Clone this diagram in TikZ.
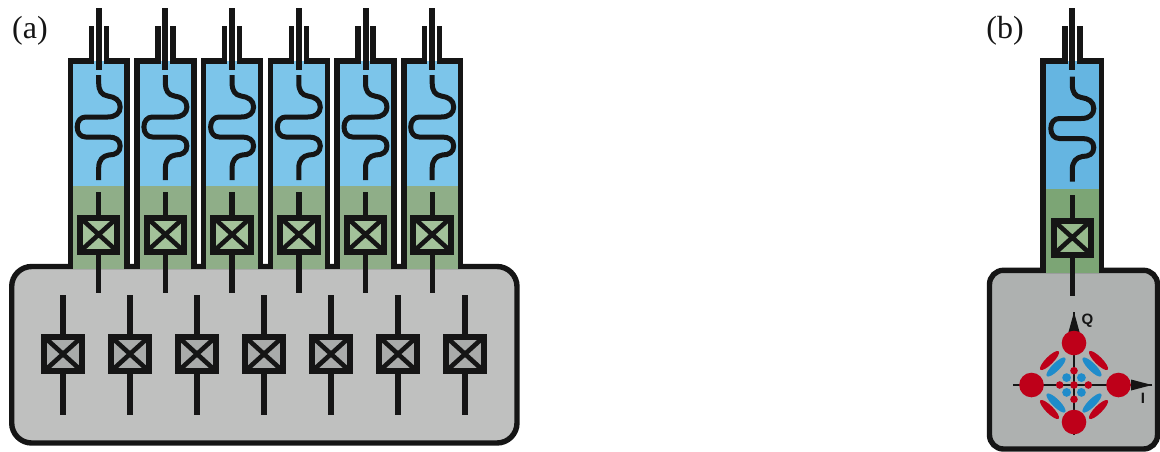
\documentclass[tikz,border=0pt]{standalone}
\usepackage{fontspec}
\setmainfont{Liberation Serif}
\setsansfont{Liberation Sans}
\definecolor{ink}{HTML}{151515}
\definecolor{blueA}{HTML}{7CC5EA}
\definecolor{greenA}{HTML}{8FAE88}
\definecolor{lightA}{HTML}{A3C29A}
\definecolor{blueB}{HTML}{65B5E1}
\definecolor{greenB}{HTML}{7CA575}
\definecolor{lightB}{HTML}{96B98C}
\definecolor{baseA}{HTML}{BFC0BF}
\definecolor{jjbase}{HTML}{A9ABAA}
\definecolor{baseB}{HTML}{AEB1B0}
\definecolor{qred}{HTML}{BE0019}
\definecolor{qblue}{HTML}{1F8CCB}
\tikzset{
  wire/.style={draw=ink,line width=5.4pt,line cap=butt},
  wall/.style={draw=ink,line width=5.4pt,miter limit=10},
  meander/.style={draw=ink,line width=5pt,line join=round},
  baseplate/.style={draw=ink,line width=5.4pt,rounded corners=20pt},
  jj/.style={rectangle,draw=ink,line width=6pt,minimum width=37.5pt,minimum height=34pt,inner sep=0pt,fill=#1,
    path picture={\draw[ink,line width=4.6pt]
      (path picture bounding box.south west) -- (path picture bounding box.north east)
      (path picture bounding box.north west) -- (path picture bounding box.south east);}},
  axis/.style={draw=ink,line width=1.2pt},
  tag/.style={font=\fontsize{32}{32}\selectfont,text=ink,inner sep=0pt},
  iqlabel/.style={font=\sffamily\bfseries\fontsize{15}{15}\selectfont,text=ink,inner sep=0pt}
}
% #1 name, #2 x, #3 half width, #4 dy of the lower part, #5 blue, #6 green, #7 light green, #8 bottom of green
\newcommand{\qcolumn}[8]{%
\begin{scope}[shift={(#2,0)}]
  \fill[#5] (-#3,61) rectangle (#3,{186+#4});
  \fill[#6] (-#3,{186+#4}) rectangle (#3,#8);
  \draw[wall] (-#3,#8) -- (-#3,61) -- (-7.5,61) -- (-7.5,26);
  \draw[wall] (#3,#8) -- (#3,61) -- (7.5,61) -- (7.5,26);
  \coordinate (#1pt) at (0,8);
  \coordinate (#1pb) at (0,70);
  \draw[wire,line width=6pt] (#1pt) -- (#1pb);
  \begin{scope}[yshift={-0.5*#4 pt}]
  \draw[meander] (0,75) -- (0,83) .. controls (0,91) and (3,95) .. (9,96)
    .. controls (16,97) and (21.5,100) .. (21.5,107) .. controls (21.5,113) and (17,117) .. (9,117)
    -- (-13,117) .. controls (-18,117) and (-21.5,121) .. (-21.5,127) .. controls (-21.5,133) and (-18,137) .. (-13,137)
    -- (10,137) .. controls (17,137) and (21.5,140) .. (21.5,146) .. controls (21.5,152) and (17,155) .. (10,155)
    .. controls (4,156) and (0,160) .. (0,168) -- (0,180);
  \end{scope}
  \node[jj=#7] (#1q) at (0,{234.5+#4}) {};
  \coordinate (#1a) at (0,{192+#4});
  \coordinate (#1b) at (0,{293+#4});
  \draw[wire] (#1a) -- (#1q.north);
  \draw[wire] (#1q.south) -- (#1b);
\end{scope}}
\begin{document}
\begin{tikzpicture}[x=1pt,y=-1pt]
\useasboundingbox (0,0) rectangle (1160,451);
% panel (a)
\node[tag] (labela) at (30,31) {(a)};
\path[baseplate,fill=baseA] (11.7,266.5) rectangle (517,443);
\foreach \i in {0,...,5} {
  \pgfmathsetmacro{\cx}{98.7+66.7*\i}
  \qcolumn{c\i}{\cx}{28.4}{0}{blueA}{greenA}{lightA}{269}
}
\foreach \i in {0,...,6} {
  \pgfmathsetmacro{\cx}{63+67*\i}
  \node[jj=jjbase] (m\i) at (\cx,354) {};
  \coordinate (mt\i) at (\cx,295);
  \coordinate (mb\i) at (\cx,414.5);
  \draw[wire] (mt\i) -- (m\i.north);
  \draw[wire] (m\i.south) -- (mb\i);
}
% panel (b)
\node[tag] (labelb) at (1005,31) {(b)};
\path[baseplate,rounded corners=14pt,fill=baseB] (989.5,270.3) rectangle (1157.5,449);
\qcolumn{d}{1072.3}{29.3}{3}{blueB}{greenB}{lightB}{273}
% constellation
\begin{scope}[shift={(1074,385)}]
  \coordinate (ql) at (-61,0);
  \coordinate (qr) at (78,0);
  \coordinate (qd) at (0,50);
  \coordinate (qu) at (0,-73);
  \draw[axis] (ql) -- (qr);
  \draw[axis] (qd) -- (qu);
  \fill[ink] (78,0) -- (57,-5.5) -- (57,5.5) -- cycle;
  \fill[ink] (0,-73) -- (-5.5,-53) -- (5.5,-53) -- cycle;
  \foreach \sx/\sy/\r in {-1/-1/45,1/-1/-45,-1/1/-45,1/1/45} {
    \fill[qred] (\sx*24.5,\sy*24.5) [rotate around={\r:(\sx*24.5,\sy*24.5)}] circle [x radius=13pt,y radius=3.8pt];
    \fill[qblue] (\sx*18,\sy*18) [rotate around={\r:(\sx*18,\sy*18)}] circle [x radius=13pt,y radius=3.9pt];
    \fill[qblue] (\sx*7.4,\sy*7.4) circle [radius=4.4pt];
  }
  \foreach \p in {(0,-42),(0,37),(-42.5,0),(44.5,0)} \fill[qred] \p circle [radius=12.3pt];
  \foreach \p in {(0,0),(-14.3,0),(14.3,0),(0,-14.3),(0,14.3)} \fill[qred] \p circle [radius=3.8pt];
\end{scope}
\node[iqlabel] (qlab) at (1087.5,320.5) {Q};
\node[iqlabel] (ilab) at (1143,398.5) {I};
\end{tikzpicture}
\end{document}
